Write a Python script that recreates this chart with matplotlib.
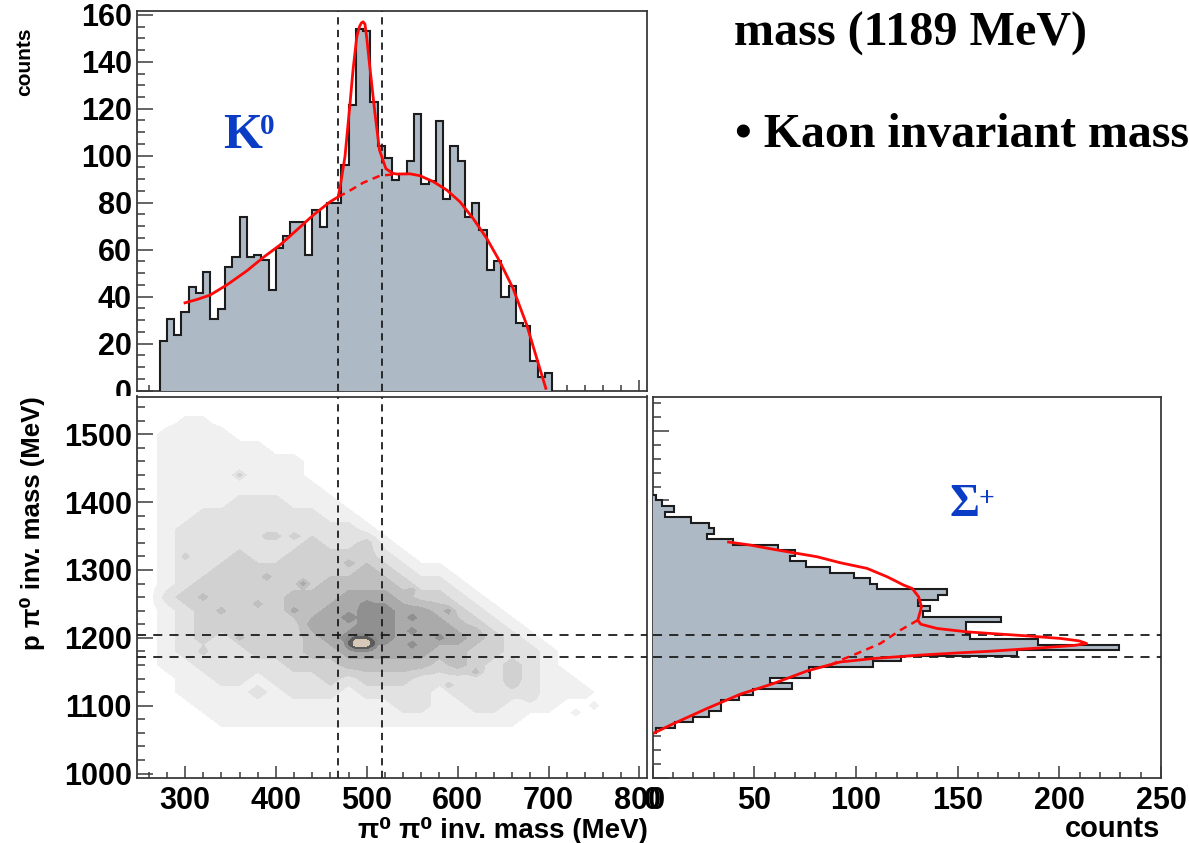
import numpy as np
import matplotlib
matplotlib.use("Agg")
import matplotlib.pyplot as plt
from matplotlib.patches import Rectangle
from matplotlib.ticker import MultipleLocator

W, H = 1189, 843
plt.rcParams['font.family'] = ['Liberation Sans', 'DejaVu Sans']

# K0 histogram, 8 MeV bins starting at 272
kaon_first_edge = 272
kaon_bin = 8
kaon_counts = [21, 30.5, 23.7, 33.6, 44, 41.7, 50.6, 30.5, 34.6, 52.5, 56.7, 74, 56.7, 57.7, 55.6,
               42.8, 60.6, 65.8, 71.6, 71.6, 57.7, 76.9, 69.8, 79.7, 79.7, 96, 121.8, 154, 153, 123,
               104, 99, 89.6, 92.2, 97.7, 117.7, 87.8, 89.2, 114.9, 81.8, 104, 97.7, 73.9, 79.7,
               68.6, 51.3, 55.3, 40, 44.5, 28.9, 27.7, 12.8, 5.7, 7.4]

# K0 fit: solid total with the peak; dashed background under the peak
kaon_fit_x = [300, 313, 327.5, 346, 368, 386, 404.5, 423, 441, 459.6, 468.5, 471, 476, 481.5, 485, 489, 492, 494,
              496, 498, 500, 503, 509, 514, 521, 528.7, 533, 547.5, 558.5, 573, 588, 602.5, 617, 632, 646.5, 661,
              676, 687, 697]
kaon_fit_y = [37.4, 38.8, 40.7, 45, 51, 56.7, 62, 68.4, 74.7, 80.4, 82.5, 87.5, 99.6, 122, 137, 150.6, 155, 156.5,
              157, 156, 150, 139, 118, 102.4, 94.5, 92.5, 92.2, 92.3, 91.5, 89, 85.4, 80.4, 73.3, 64.8, 54.9, 43.5,
              28, 13.8, 1]
kaon_bg_x = [468.5, 478, 496, 514.5, 533]
kaon_bg_y = [82.5, 84.4, 88.5, 91.5, 92.2]

# Sigma+ histogram, 8 MeV bins going down from 1408
sigma_first_edge = 1408
sigma_bin = 8
sigma_counts = [1.5, 4.4, 10.5, 6.1, 18.7, 27.8, 30.2, 26.6, 39.4, 61.6, 70.1, 67.3, 75.5, 87.4, 98.9, 107,
                110.3, 144.8, 140.4, 130.5, 136.3, 133, 171.4, 154.3, 154.3, 156.3, 189.5, 229.4, 179.3,
                122.3, 108.4, 76.7, 77.5, 57.5, 68.5, 49.1, 42.5, 33.7, 33.7, 27.8, 20, 11, 1.6]

sigma_fit_counts = [37.3, 47.9, 59.4, 70.9, 80.8, 92.3, 105.4, 115.3, 120, 123.4, 127.6, 130.8, 132.2, 131.3, 130.4,
                    131.8, 139.9, 154.7, 166.2, 184.2, 200.6, 209.7, 213.4, 207.2, 190.8, 166.2, 149.8,
                    133.3, 108.7, 92.3, 75.9, 59.4, 43, 26.6, 10.2, 0]
sigma_fit_mass = [1340, 1335.7, 1329.5, 1323.7, 1318.8, 1310.1, 1302, 1289.9, 1283, 1277.9, 1273.1, 1261, 1246.5, 1237,
                  1227.3, 1221.5, 1215.3, 1210.4, 1208.1, 1204.6, 1200.9, 1197.4, 1193.7, 1190.8, 1187.3,
                  1182.5, 1180, 1177.2, 1172, 1167, 1154, 1135.9, 1120.4, 1099.7, 1078, 1063.6]
sigma_bg_counts = [130.4, 121.8, 112, 100.5, 92.3, 87.4]
sigma_bg_mass = [1227.3, 1212.9, 1193.7, 1179.2, 1169.5, 1162.3]

# scatter density, read as grey level per cell
grid_x = list(range(260, 761, 20))
grid_y = [1540, 1520, 1500, 1480, 1460, 1440, 1420, 1400, 1380, 1360, 1340, 1320, 1300, 1280, 1260, 1240,
          1220, 1200, 1180, 1160, 1140, 1120, 1100, 1080, 1060]
grid_levels = [
    [0,0,0,0,0,0,0,0,0,0,0,0,0,0,0,0,0,0,0,0,0,0,0,0,0,0],
    [0,0,0.7,0.7,0,0,0,0,0,0,0,0,0,0,0,0,0,0,0,0,0,0,0,0,0,0],
    [0,1,1,1,1,0,0,0,0,0,0,0,0,0,0,0,0,0,0,0,0,0,0,0,0,0],
    [0,1,1,1,1,1,1,0,0,0,0,0,0,0,0,0,0,0,0,0,0,0,0,0,0,0],
    [0,1,1,1,1,1,1,1,1,0,0,0,0,0,0,0,0,0,0,0,0,0,0,0,0,0],
    [0,1,1,1,1,1,1,1,1,0,0,0,0,0,0,0,0,0,0,0,0,0,0,0,0,0],
    [0,1,1,1,1,1,1,1,1,1,0,0,0,0,0,0,0,0,0,0,0,0,0,0,0,0],
    [0,1,1,1,1,2,2,2,1,1,1,0,0,0,0,0,0,0,0,0,0,0,0,0,0,0],
    [0,1,1,2,2,2,2,2,2,2,1,1,0,0,0,0,0,0,0,0,0,0,0,0,0,0],
    [0,1,2,2,2,2,2,2,2,2,2,2,1,0,0,0,0,0,0,0,0,0,0,0,0,0],
    [0,1,2,2,2,2,2,2,2,3,2,2,3,1,0,0,0,0,0,0,0,0,0,0,0,0],
    [0,1,2,2,2,3,2,2,3,3,3,3,3,2,1,0,0,0,0,0,0,0,0,0,0,0],
    [0,1,2,2,3,3,3,3,3,3,3,3,4,3,2,1,1,0,0,0,0,0,0,0,0,0],
    [0,1,2,3,3,3,3,3,3,3,4,4,4,4,3,2,2,1,0,0,0,0,0,0,0,0],
    [0,2,3,3,3,3,3,3,4,4,4,5,5,5,4,3,3,2,1,0,0,0,0,0,0,0],
    [0,1,2,3,3,3,3,3,4,4,5,5,6,6,5,5,4,3,2,1,0,0,0,0,0,0],
    [0,1,2,3,3,3,3,3,3,5,5,5,6,6,5,5,5,4,3,2,1,0,0,0,0,0],
    [0,1,2,3,2,3,3,3,3,4,5,6,6,6,5,5,5,5,4,3,2,1,0,0,0,0],
    [0,1,2,2,2,2,3,3,3,4,4,5,5,5,5,5,4,4,3,3,2,2,1,0,0,0],
    [0,1,1,2,2,2,2,2,3,3,3,4,4,4,4,4,3,4,3,2,3,2,1,0,0,0],
    [0,0,1,1,2,2,1,2,2,2,3,2,3,3,3,2,2,2,2,2,3,2,1,1,0,0],
    [0,0,1,1,1,1,2,1,2,2,2,1,2,2,2,2,1,2,2,2,2,2,1,1,1,0],
    [0,0,0,1,1,1,1,1,1,1,1,1,1,1,2,2,1,1,2,2,1,1,1,0,0,0],
    [0,0,0,0,1,1,1,1,1,1,1,1,1,1,1,1,1,1,1,1,1,0,0,0,0,0],
    [0,0,0,0,0,0,0,0,0,0,0,0,0,0,0,0,0,0,0,0,0,0,0,0,0,0],
]
# small darker specks seen in the density, on top of the cells above
speck_x = [358, 419, 388, 404, 476, 300, 388, 434, 485, 500, 419, 338, 379, 319, 364, 443, 500, 324, 331,
           555, 555, 578, 555, 588, 621, 621, 658, 551, 683, 732, 749, 586]
speck_y = [1439, 1354, 1347, 1355, 1311, 1319, 1288, 1279, 1230, 1248, 1238, 1245, 1255, 1258, 1200, 1185, 1136,
           1185, 1230, 1233, 1192, 1200, 1214, 1236, 1214, 1155, 1135, 1273, 1111, 1086, 1096, 1126]
speck_level = [3, 3, 3, 3, 4, 3, 4, 5, 7, 6, 5, 4, 4, 4, 4, 4, 3, 3, 3, 6, 6, 6, 6, 5, 4, 4, 3, 4, 2, 1, 1, 3]
# the small bright spot at the centre of the cross
spot_x = [474, 482, 488, 494, 500, 506, 514]
spot_y = [1208, 1200, 1194, 1190, 1186, 1178]
spot_levels = [
    [5,5,5,5,5,5,5],
    [5,6,7,7,7,6,5],
    [5,7,9,9,9,7,5],
    [5,7,9,9,9,7,5],
    [5,6,7,7,7,6,5],
    [5,5,5,5,5,5,5],
]

kaon_cut_x = [468.5, 516.7]
sigma_cut_y_left = [1203.6, 1171.6]
sigma_cut_y_right = [1205.6, 1174.3]

FILL = '#adbac6'
LINE = '#1c1c1c'
SPINE = '#3a3a3a'
RED = '#ff0808'
BLUE = '#0b3cc6'
GREYS = ['#f0f0f0', '#e2e2e2', '#d1d1d1', '#bfbfbf', '#aaaaaa', '#909090']


def px_axes(x0, y0, x1, y1, zorder):
    # axes box given in image pixels
    return fig.add_axes([x0 / W, 1 - y1 / H, (x1 - x0) / W, (y1 - y0) / H], zorder=zorder)


def style(ax, xmajor, xminor, ymajor, yminor, xlen, ylen):
    ax.set_axisbelow(True)
    ax.xaxis.set_major_locator(MultipleLocator(xmajor))
    ax.xaxis.set_minor_locator(MultipleLocator(xminor))
    ax.yaxis.set_major_locator(MultipleLocator(ymajor))
    ax.yaxis.set_minor_locator(MultipleLocator(yminor))
    ax.tick_params(axis='x', which='major', direction='in', length=xlen, width=1.1, color=SPINE, pad=6,
                   labelsize=22, labelcolor='black')
    ax.tick_params(axis='x', which='minor', direction='in', length=xlen / 2, width=1.1, color=SPINE)
    ax.tick_params(axis='y', which='major', direction='in', length=ylen, width=1.1, color=SPINE, pad=4,
                   labelsize=22, labelcolor='black')
    ax.tick_params(axis='y', which='minor', direction='in', length=ylen / 2, width=1.1, color=SPINE)
    for lab in ax.get_xticklabels() + ax.get_yticklabels():
        lab.set_fontweight('bold')
    for s in ax.spines.values():
        s.set_linewidth(1.3)
        s.set_color(SPINE)


def fine_density():
    # cells resampled to 10 MeV, then the specks written in
    fine_x = np.arange(grid_x[0], grid_x[-1] + 1, 10)
    fine_y = np.arange(grid_y[-1], grid_y[0] + 1, 10)
    cells = np.array(grid_levels, dtype=float)[::-1]
    by_col = np.array([np.interp(fine_x, grid_x, row) for row in cells])
    fine = np.array([np.interp(fine_y, grid_y[::-1], by_col[:, i]) for i in range(len(fine_x))]).T
    for x, y, lev in zip(speck_x, speck_y, speck_level):
        ix = np.argmin(np.abs(fine_x - x))
        iy = np.argmin(np.abs(fine_y - y))
        fine[iy, ix] = max(fine[iy, ix], lev)
    return fine_x, fine_y, fine


fig = plt.figure(figsize=(W / 100, H / 100), dpi=100)

# top panel
ax_top = px_axes(137.3, 11, 646.7, 390.7, 1)
kaon_edges = kaon_first_edge + kaon_bin * np.arange(len(kaon_counts) + 1)
ax_top.stairs(kaon_counts, kaon_edges, fill=True, color=FILL, zorder=1)
ax_top.stairs(kaon_counts, kaon_edges, color=LINE, linewidth=1.5, baseline=0, zorder=2)
ax_top.plot(kaon_fit_x, kaon_fit_y, color=RED, lw=2, zorder=4)
ax_top.plot(kaon_bg_x, kaon_bg_y, color=RED, lw=1.8, ls=(0, (3, 2.2)), zorder=4)
for x in kaon_cut_x:
    ax_top.axvline(x, color=LINE, lw=1.3, ls=(0, (4, 3)), zorder=3)
ax_top.set_xlim(247.5, 808)
ax_top.set_ylim(0, 161.6)
style(ax_top, 100, 20, 20, 5, 8, 11.5)
ax_top.spines['bottom'].set_zorder(0.6)
ax_top.tick_params(axis='x', which='both', labelbottom=False)

# hides the lower part of the cut "0" label
fig.add_artist(Rectangle((0, 0), 137 / W, 1 - 396 / H, transform=fig.transFigure, facecolor='white',
                         edgecolor='none', zorder=1.5))

# density panel
ax_map = px_axes(137.3, 396.5, 646.7, 777.7, 2)
fx, fy, fz = fine_density()
ax_map.contourf(fx, fy, fz, levels=[0.5, 1.5, 2.5, 3.5, 4.5, 5.5, 9], colors=GREYS, zorder=1)
ax_map.contourf(spot_x, spot_y, spot_levels, levels=[5.5, 6.5, 8, 10], colors=['#8a8a8a', '#5c5c5c', '#d8c8b8'],
                zorder=1.2)
for x in kaon_cut_x:
    ax_map.axvline(x, color=LINE, lw=1.3, ls=(0, (4, 3)), zorder=3)
for y in sigma_cut_y_left:
    ax_map.axhline(y, color=LINE, lw=1.3, ls=(0, (5, 4)), zorder=3)
ax_map.set_xlim(247.5, 808)
ax_map.set_ylim(994, 1555.6)
style(ax_map, 100, 20, 100, 20, 9, 11.5)

# right panel
ax_side = px_axes(652.7, 396.5, 1161, 777.7, 1)
sigma_edges = sigma_first_edge - sigma_bin * np.arange(len(sigma_counts) + 1)
ax_side.stairs(sigma_counts, sigma_edges, orientation='horizontal', fill=True, color=FILL, zorder=1)
ax_side.stairs(sigma_counts, sigma_edges, orientation='horizontal', color=LINE, linewidth=1.5, baseline=0, zorder=2)
ax_side.plot(sigma_fit_counts, sigma_fit_mass, color=RED, lw=2, zorder=4)
ax_side.plot(sigma_bg_counts, sigma_bg_mass, color=RED, lw=1.8, ls=(0, (3, 2.2)), zorder=4)
for y in sigma_cut_y_right:
    ax_side.axhline(y, color=LINE, lw=1.3, ls=(0, (5, 4)), zorder=3)
ax_side.set_xlim(0, 250)
ax_side.set_ylim(1000, 1550)
style(ax_side, 50, 10, 100, 20, 9, 11.5)
ax_side.spines['left'].set_zorder(0.6)
ax_side.tick_params(axis='y', which='both', labelleft=False)


def label(x, y, s, **kw):
    fig.text(x / W, 1 - y / H, s, zorder=5, **kw)


label(648, 830, 'π⁰ π⁰ inv. mass (MeV)', ha='right', va='center', fontsize=20, fontweight='bold')
label(1160, 829, 'counts', ha='right', va='center', fontsize=21, fontweight='bold')
label(33, 396, 'p π⁰ inv. mass (MeV)', ha='center', va='top', rotation=90, fontsize=18.5, fontweight='bold')
label(25, 96, 'counts', ha='center', va='bottom', rotation=90, fontsize=15, fontweight='bold')

serif = ['Liberation Serif', 'DejaVu Serif']
label(734, 46, 'mass (1189 MeV)', ha='left', va='baseline', fontsize=34.7, fontweight='bold', family=serif)
label(735, 147, '• Kaon invariant mass', ha='left', va='baseline', fontsize=34.5, fontweight='bold', family=serif)
label(223, 148, 'K', ha='left', va='baseline', fontsize=36, fontweight='bold', family=serif, color=BLUE)
label(260, 134, '0', ha='left', va='baseline', fontsize=21, fontweight='bold', family=serif, color=BLUE)
label(949, 516, 'Σ', ha='left', va='baseline', fontsize=33, fontweight='bold', family=serif, color=BLUE)
label(979, 506, '+', ha='left', va='baseline', fontsize=20, fontweight='bold', family=serif, color=BLUE)

fig.savefig('out.png', dpi=100)
